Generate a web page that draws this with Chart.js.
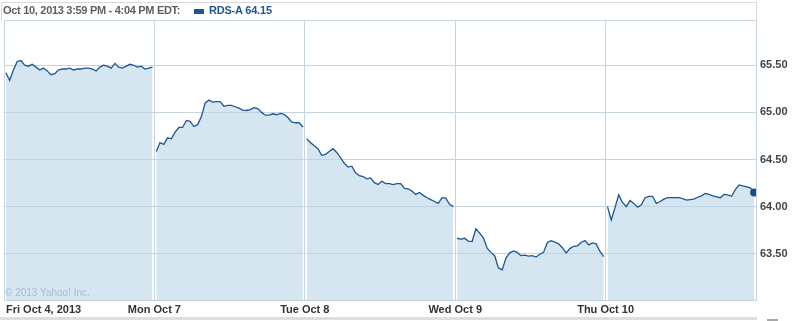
<!DOCTYPE html>
<html>
<head>
<meta charset="utf-8">
<script src="https://cdn.jsdelivr.net/npm/chart.js@4.4.0/dist/chart.umd.min.js"></script>
<style>
  html, body { margin:0; padding:0; background:#fff; }
  #wrap { position:relative; width:800px; height:321px; overflow:hidden; }
  #c { position:absolute; left:0; top:0; }
  #hdrbox { position:absolute; left:1px; top:2px; width:754px; height:18px; border:1px solid #d9d9d9; border-bottom:none; }
  #hdr { position:absolute; left:3px; top:4px; font:bold 11px "Liberation Sans", Arial, sans-serif; letter-spacing:-0.3px; color:#5e5e5e; white-space:nowrap; }
  #sw { position:absolute; left:194px; top:9px; width:10px; height:5px; background:#1f5590; }
  #leg { position:absolute; left:209px; top:4px; font:bold 11px "Liberation Sans", Arial, sans-serif; letter-spacing:-0.2px; color:#1f5590; white-space:nowrap; }
  #copy { position:absolute; left:5px; top:287px; font:10px "Liberation Sans", Arial, sans-serif; color:#aebbc6; white-space:nowrap; }
  #band { position:absolute; left:0; top:317px; width:757px; height:3px; background:#dedede; }
  #dash { position:absolute; left:767px; top:319px; width:11px; height:2px; background:#a8a8a8; }
</style>
</head>
<body>
<div id="wrap">
  <canvas id="c" width="800" height="321"></canvas>
  <div id="hdrbox"></div>
  <div id="hdr"></div>
  <div id="sw"></div>
  <div id="leg"></div>
  <div id="copy"></div>
  <div id="band"></div>
  <div id="dash"></div>
</div>
<script>
// ---- data (10-minute samples, 9:30 to 16:00 each day) ----
const headerText = 'Oct 10, 2013 3:59 PM - 4:04 PM EDT:';
const symbol = 'RDS-A';
const copyright = '\u00A9 2013 Yahoo! Inc.';
const dayLabels = ['Fri Oct 4, 2013', 'Mon Oct 7', 'Tue Oct 8', 'Wed Oct 9', 'Thu Oct 10'];
const yTicks = [63.5, 64.0, 64.5, 65.0, 65.5];

const friPrices = [65.42,65.34,65.45,65.54,65.55,65.50,65.49,65.51,65.48,65.45,
                   65.47,65.44,65.40,65.41,65.45,65.46,65.46,65.47,65.45,65.46,
                   65.46,65.47,65.47,65.46,65.44,65.48,65.50,65.49,65.47,65.52,
                   65.48,65.47,65.49,65.51,65.50,65.48,65.49,65.46,65.47,65.48];
const monPrices = [64.585,64.68,64.66,64.73,64.72,64.79,64.84,64.84,64.915,64.905,
                   64.85,64.87,64.955,65.10,65.13,65.11,65.115,65.115,65.065,65.075,
                   65.075,65.06,65.045,65.025,65.02,65.03,65.05,65.04,65.00,64.97,
                   64.97,64.985,64.975,64.99,64.98,64.945,64.90,64.89,64.89,64.845];
const tuePrices = [64.72,64.68,64.645,64.615,64.545,64.555,64.585,64.615,64.575,64.52,
                   64.46,64.42,64.43,64.36,64.33,64.32,64.295,64.305,64.255,64.235,
                   64.27,64.245,64.245,64.235,64.245,64.245,64.195,64.19,64.165,64.13,
                   64.15,64.12,64.095,64.075,64.055,64.035,64.095,64.09,64.025,64.00];
const wedPrices = [63.665,63.655,63.665,63.635,63.63,63.765,63.72,63.67,63.56,63.515,
                   63.48,63.35,63.33,63.455,63.51,63.53,63.515,63.48,63.485,63.475,
                   63.48,63.465,63.495,63.515,63.62,63.64,63.625,63.605,63.565,63.51,
                   63.555,63.58,63.585,63.62,63.64,63.595,63.615,63.605,63.525,63.47];
const thuPrices = [64.00,63.86,63.99,64.125,64.045,64.00,64.065,64.035,63.995,64.02,
                   64.095,64.11,64.11,64.035,64.055,64.08,64.095,64.095,64.095,64.095,
                   64.085,64.07,64.075,64.08,64.10,64.115,64.14,64.13,64.115,64.105,
                   64.095,64.13,64.125,64.11,64.18,64.23,64.22,64.21,64.20,64.15];

const allDays = [friPrices, monPrices, tuePrices, wedPrices, thuPrices];
const DAY = 400, OFF = 5, STEP = 10;

const points = [];
allDays.forEach((arr, d) => {
  arr.forEach((v, k) => points.push({ x: d * DAY + OFF + STEP * k, y: v }));
  if (d < allDays.length - 1) points.push({ x: (d + 1) * DAY, y: null });
});
const lastIdx = points.length - 1;
const lastVal = thuPrices[thuPrices.length - 1];

document.getElementById('hdr').textContent = headerText;
document.getElementById('leg').textContent = symbol + ' ' + lastVal.toFixed(2);
document.getElementById('copy').textContent = copyright;

const GRID = '#c6d4df';
const FONT = '"Liberation Sans", Arial, sans-serif';

const xLabelPlugin = {
  id: 'xLabels',
  afterDraw(chart) {
    const ctx = chart.ctx, xs = chart.scales.x;
    ctx.save();
    ctx.font = 'bold 11px ' + FONT;
    ctx.fillStyle = '#333';
    ctx.textBaseline = 'middle';
    dayLabels.forEach((lab, i) => {
      const px = xs.getPixelForValue(i * DAY);
      if (i === 0) { ctx.textAlign = 'left'; ctx.fillText(lab, px + 2, 309.5); }
      else { ctx.textAlign = 'center'; ctx.fillText(lab, px, 309.5); }
    });
    ctx.restore();
  }
};

new Chart(document.getElementById('c'), {
  type: 'line',
  data: {
    datasets: [{
      data: points,
      borderColor: '#1f5590',
      borderWidth: 1.3,
      backgroundColor: 'rgba(187,213,232,0.6)',
      fill: 'start',
      tension: 0,
      spanGaps: false,
      pointRadius: c => c.dataIndex === lastIdx ? 4 : 0,
      pointHoverRadius: 0,
      pointBackgroundColor: '#1a4c85',
      pointBorderColor: '#1a4c85',
      pointBorderWidth: 0
    }]
  },
  options: {
    responsive: false,
    animation: false,
    devicePixelRatio: 1,
    layout: { padding: { top: 20, left: 1, right: 0, bottom: 0 } },
    plugins: { legend: { display: false }, tooltip: { enabled: false } },
    scales: {
      x: {
        type: 'linear',
        min: 0,
        max: DAY * dayLabels.length,
        afterBuildTicks: s => { s.ticks = dayLabels.map((_, i) => ({ value: i * DAY })).concat([{ value: DAY * dayLabels.length }]); },
        afterFit: s => { s.height = 21; },
        ticks: { display: false },
        grid: { color: GRID, lineWidth: 1, drawTicks: false },
        border: { color: GRID, width: 1 }
      },
      y: {
        position: 'right',
        min: 63.01,
        max: 65.98,
        afterBuildTicks: s => { s.ticks = [63.01].concat(yTicks).concat([65.98]).map(v => ({ value: v })); },
        afterFit: s => { s.width = 44; },
        ticks: {
          padding: 4,
          color: '#444',
          font: { family: FONT, size: 11, weight: 'bold' },
          callback: v => yTicks.some(t => Math.abs(t - v) < 1e-6) ? Number(v).toFixed(2) : ''
        },
        grid: { color: GRID, lineWidth: 1, drawTicks: false },
        border: { color: GRID, width: 1 }
      }
    }
  },
  plugins: [xLabelPlugin]
});
</script>
</body>
</html>
